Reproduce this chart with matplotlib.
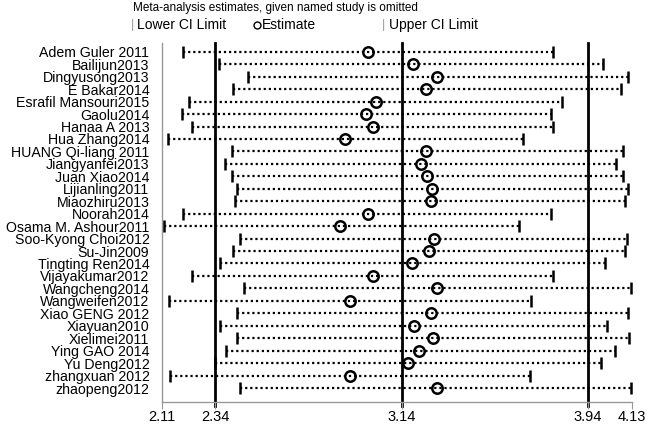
import matplotlib
matplotlib.use('Agg')
import matplotlib.pyplot as plt
from matplotlib.lines import Line2D

plt.rcParams['font.family'] = ['Liberation Sans', 'DejaVu Sans']

# studies, top to bottom
studies = ['Adem Guler 2011', 'Bailijun2013', 'Dingyusong2013', 'E Bakar2014',
           'Esrafil Mansouri2015', 'Gaolu2014', 'Hanaa A 2013', 'Hua Zhang2014',
           'HUANG Qi-liang 2011', 'Jiangyanfei2013', 'Juan Xiao2014', 'Lijianling2011',
           'Miaozhiru2013', 'Noorah2014', 'Osama M. Ashour2011', 'Soo-Kyong Choi2012',
           'Su-Jin2009', 'Tingting Ren2014', 'Vijayakumar2012', 'Wangcheng2014',
           'Wangweifen2012', 'Xiao GENG 2012', 'Xiayuan2010', 'Xielimei2011',
           'Ying GAO 2014', 'Yu Deng2012', 'zhangxuan 2012', 'zhaopeng2012']

lower = [2.20, 2.354, 2.479, 2.414, 2.227, 2.197, 2.24, 2.137, 2.409, 2.383, 2.412, 2.433,
         2.423, 2.20, 2.12, 2.444, 2.414, 2.358, 2.237, 2.463, 2.14, 2.433, 2.361, 2.433,
         2.386, 2.34, 2.143, 2.444]
estimate = [2.994, 3.187, 3.291, 3.246, 3.030, 2.988, 3.015, 2.895, 3.246, 3.221, 3.25, 3.271,
            3.264, 2.994, 2.876, 3.277, 3.258, 3.185, 3.015, 3.29, 2.916, 3.268, 3.191, 3.273,
            3.214, 3.168, 2.919, 3.29]
upper = [3.788, 4.004, 4.113, 4.083, 3.828, 3.781, 3.788, 3.661, 4.091, 4.06, 4.09, 4.114,
         4.10, 3.782, 3.646, 4.11, 4.10, 4.014, 3.791, 4.124, 3.696, 4.111, 4.024, 4.117,
         4.057, 3.997, 3.692, 4.127]

ref_lines = [2.34, 3.14, 3.94]
xticks = [2.11, 2.34, 3.14, 3.94, 4.13]

fig = plt.figure(figsize=(6.53, 4.24), dpi=100)
ax = fig.add_axes([0.248, 0.052, 0.72, 0.847])

for xv in ref_lines:
    ax.axvline(xv, ymin=-0.01, color='black', lw=2, zorder=1, clip_on=False)

ys = list(range(len(studies)))
for y, lo, est, up in zip(ys, lower, estimate, upper):
    ax.plot([lo, up], [y, y], color='black', lw=1.6, linestyle=(0, (1, 1.3)), zorder=2)
ax.plot(lower, ys, linestyle='none', marker='|', ms=9, mew=1.8, color='black', zorder=3)
ax.plot(upper, ys, linestyle='none', marker='|', ms=9, mew=1.8, color='black', zorder=3)
ax.plot(estimate, ys, linestyle='none', marker='o', ms=7.5, mew=1.8, mfc='none',
        mec='black', zorder=4)

ax.set_xlim(2.11, 4.13)
ax.set_ylim(len(studies) - 1 + 1.12, -0.72)
ax.set_yticks(ys)
ax.set_yticklabels(studies, fontsize=10.2)
ax.tick_params(axis='y', length=0, pad=9)
ax.set_xticks(xticks)
ax.set_xticklabels([f'{v:.2f}' for v in xticks], fontsize=10.5)
ax.tick_params(axis='x', length=5, color='#999999', pad=0.5)
for s in ['top', 'right']:
    ax.spines[s].set_visible(False)
for s in ['left', 'bottom']:
    ax.spines[s].set_color('#999999')
    ax.spines[s].set_linewidth(1)

# title and legend row
fig.text(133 / 653, 1 - 8 / 424, 'Meta-analysis estimates, given named study is omitted',
         fontsize=8.5, ha='left', va='center')
fig.text(131 / 653, 1 - 25 / 424, '|', color='#999999', fontsize=9, ha='left', va='center')
fig.text(137 / 653, 1 - 25 / 424, 'Lower CI Limit', fontsize=10, ha='left', va='center')
fig.add_artist(Line2D([257 / 653], [1 - 25 / 424], marker='o', ms=5, mfc='none', mec='black',
                      mew=1, transform=fig.transFigure))
fig.text(262 / 653, 1 - 25 / 424, 'Estimate', fontsize=10, ha='left', va='center')
fig.text(382 / 653, 1 - 25 / 424, '|', color='#999999', fontsize=9, ha='left', va='center')
fig.text(389 / 653, 1 - 25 / 424, 'Upper CI Limit', fontsize=10, ha='left', va='center')

fig.savefig('out.png', dpi=100)
